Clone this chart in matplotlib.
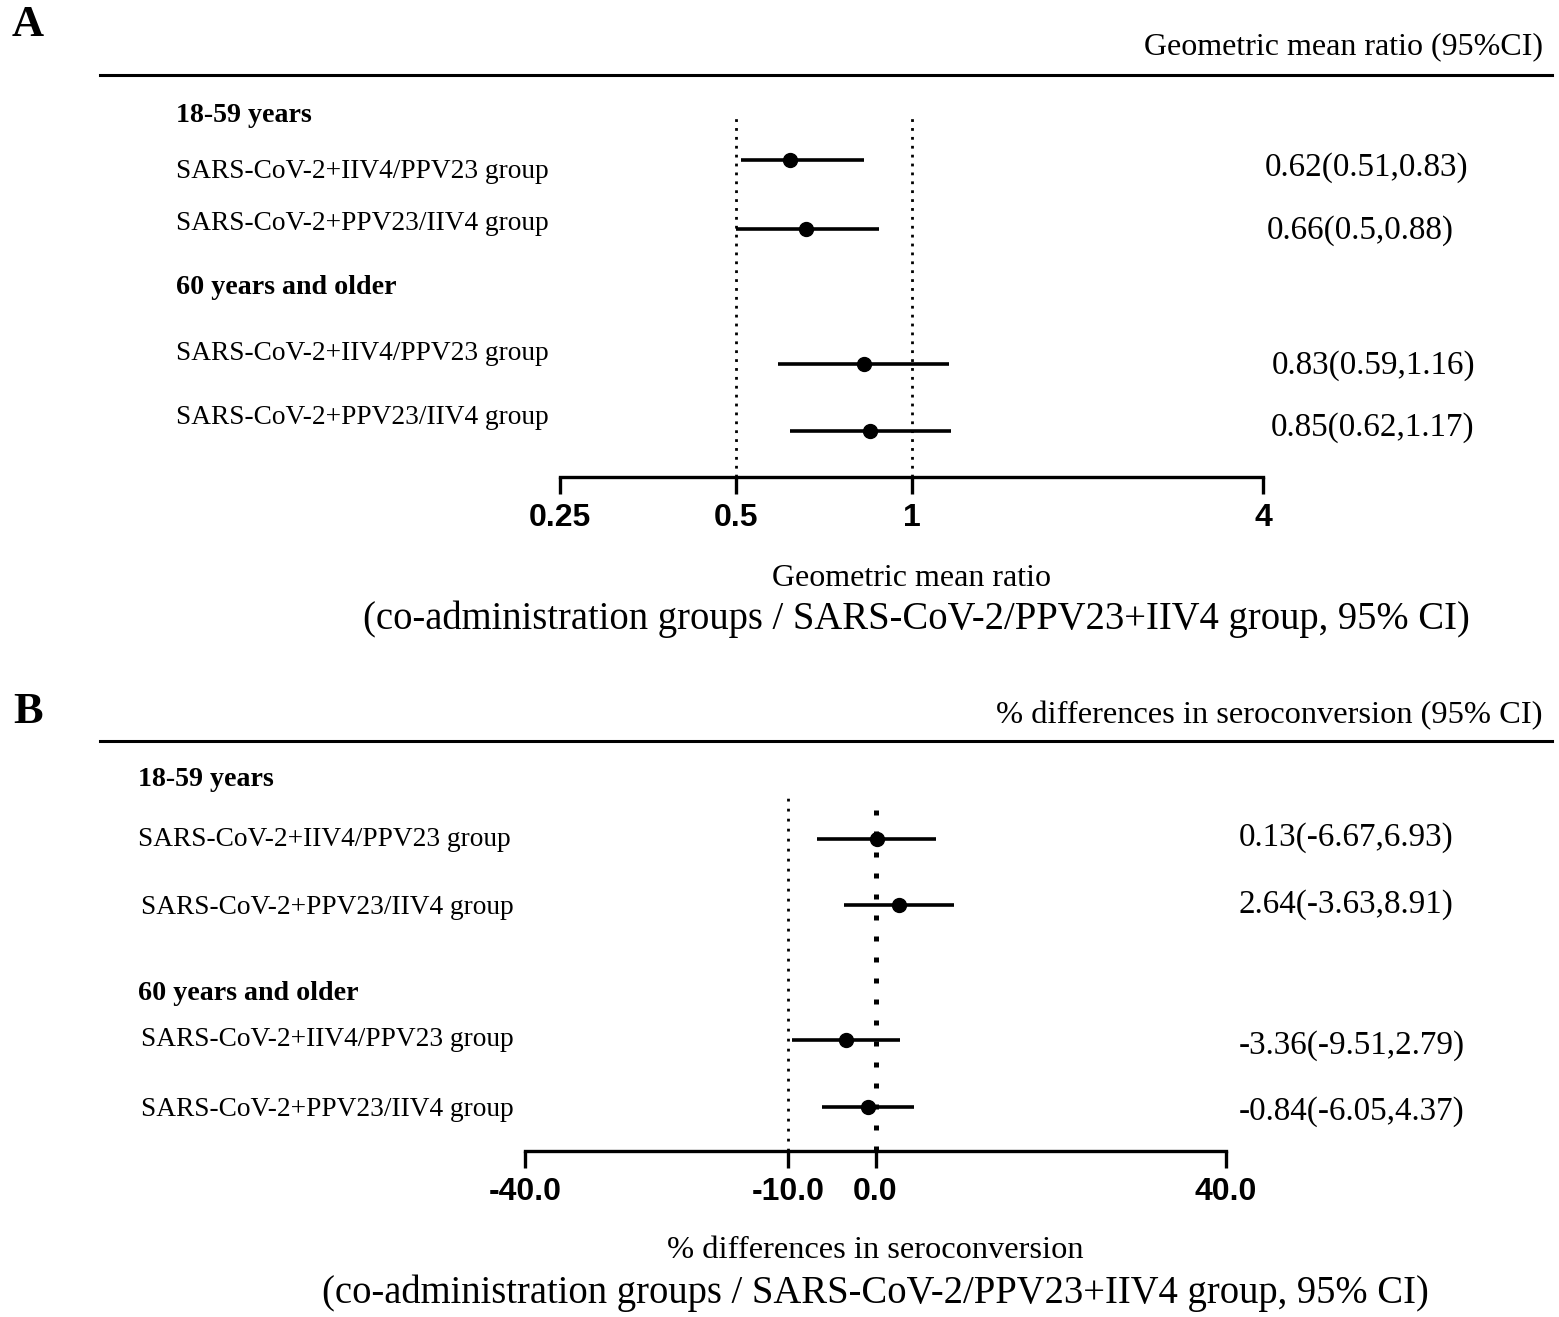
import matplotlib
matplotlib.use("Agg")
import matplotlib.pyplot as plt

# ---------------- data ----------------
group_labels = ["SARS-CoV-2+IIV4/PPV23 group", "SARS-CoV-2+PPV23/IIV4 group",
                "SARS-CoV-2+IIV4/PPV23 group", "SARS-CoV-2+PPV23/IIV4 group"]
age_headers = ["18-59 years", "60 years and older"]

gmr_mean = [0.62, 0.66, 0.83, 0.85]
gmr_low = [0.51, 0.50, 0.59, 0.62]
gmr_high = [0.83, 0.88, 1.16, 1.17]
gmr_ticks = [0.25, 0.5, 1, 4]
gmr_ticklabels = ["0.25", "0.5", "1", "4"]
gmr_refs = [0.5, 1]

sc_mean = [0.13, 2.64, -3.36, -0.84]
sc_low = [-6.67, -3.63, -9.51, -6.05]
sc_high = [6.93, 8.91, 2.79, 4.37]
sc_ticks = [-40, -10, 0, 40]
sc_ticklabels = ["-40.0", "-10.0", "0.0", "40.0"]
sc_refs = [-10, 0]

W, H = 1559, 1317
fig = plt.figure(figsize=(W / 100, H / 100), dpi=100)
SERIF = "Liberation Serif"
SANS = "Liberation Sans"


def fx(x):
    return x / W


def fy(y):
    return 1 - y / H


def ftext(x, y, s, **kw):
    fig.text(fx(x), fy(y + 3), s, family=SERIF, **kw)


def make_axes(x0, x1, ytop, ybot):
    ax = fig.add_axes([fx(x0), fy(ybot), fx(x1 - x0), (ybot - ytop) / H])
    ax.set_ylim(ybot, ytop)
    for s in ["top", "right", "left"]:
        ax.spines[s].set_visible(False)
    ax.spines["bottom"].set_linewidth(2.4)
    ax.set_yticks([])
    ax.tick_params(axis="x", direction="out", length=12, width=2.4, pad=7,
                   labelsize=23)
    ax.patch.set_alpha(0)
    return ax


# ---------------- Panel A ----------------
ftext(28, 22, "A", fontsize=32, fontweight="bold", va="center", ha="center")
fig.add_artist(plt.Line2D([fx(100), fx(1552)], [fy(75), fy(75)], color="black", lw=2.2))
ftext(1543, 44, "Geometric mean ratio (95%CI)", fontsize=23, ha="right", va="center")

axA = make_axes(560, 1263, 95, 477)
axA.set_xscale("log", base=2)
axA.set_xlim(0.25, 4)
axA.set_xticks(gmr_ticks)
axA.set_xticklabels(gmr_ticklabels)
axA.minorticks_off()
for lab in axA.get_xticklabels():
    lab.set_fontfamily(SANS)
    lab.set_fontweight("bold")

rowsA = [160, 229, 364, 431]
labelsA_y = [168, 220, 351, 414]
valsA_y = [165, 228, 363, 425]
valsA_x = [1367, 1360, 1374, 1373]
headA_y = [113, 285]

for r in gmr_refs:
    axA.plot([r, r], [477, 117], ls=(0, (1, 2.2)), color="black", lw=2.0)

for i in range(4):
    axA.errorbar(gmr_mean[i], rowsA[i],
                 xerr=[[gmr_mean[i] - gmr_low[i]], [gmr_high[i] - gmr_mean[i]]],
                 fmt="o", color="black", ms=10, elinewidth=2.6, capsize=0,
                 clip_on=False)
    ftext(176, labelsA_y[i], group_labels[i], fontsize=19.7, va="center")
    ftext(valsA_x[i], valsA_y[i],
          f"{gmr_mean[i]:g}({gmr_low[i]:g},{gmr_high[i]:g})",
          fontsize=23.9, va="center", ha="center")
for h, y in zip(age_headers, headA_y):
    ftext(176, y, h, fontsize=20.2, fontweight="bold", va="center")

ftext(911, 576, "Geometric mean ratio", fontsize=23, ha="center", va="center")
ftext(916, 616, "(co-administration groups / SARS-CoV-2/PPV23+IIV4 group, 95% CI)",
      fontsize=27.8, ha="center", va="center")

# ---------------- Panel B ----------------
ftext(28, 709, "B", fontsize=32, fontweight="bold", va="center", ha="center")
fig.add_artist(plt.Line2D([fx(100), fx(1552)], [fy(741), fy(741)], color="black", lw=2.2))
ftext(1543, 713, "% differences in seroconversion (95% CI)", fontsize=23.4,
      ha="right", va="center")

axB = make_axes(525, 1226, 760, 1151)
axB.set_xlim(-40, 40)
axB.set_xticks(sc_ticks)
axB.set_xticklabels(sc_ticklabels)
for lab in axB.get_xticklabels():
    lab.set_fontfamily(SANS)
    lab.set_fontweight("bold")

rowsB = [839, 905, 1040, 1107]
labelsB_y = [836, 905, 1036, 1106]
labelsB_x = [138, 141, 141, 141]
valsB_y = [835, 902, 1043, 1109]
headB_y = [777, 990]

axB.plot([sc_refs[0]] * 2, [1151, 795], ls=(0, (1, 2.6)), color="black", lw=2.0)
axB.plot([sc_refs[1]] * 2, [1151, 795], ls=(0, (1, 3.2)), color="black", lw=3.6)

for i in range(4):
    axB.errorbar(sc_mean[i], rowsB[i],
                 xerr=[[sc_mean[i] - sc_low[i]], [sc_high[i] - sc_mean[i]]],
                 fmt="o", color="black", ms=10, elinewidth=2.6, capsize=0,
                 clip_on=False)
    ftext(labelsB_x[i], labelsB_y[i], group_labels[i], fontsize=19.7, va="center")
    ftext(1239, valsB_y[i], f"{sc_mean[i]:.2f}({sc_low[i]:.2f},{sc_high[i]:.2f})",
          fontsize=23.9, va="center", ha="left")
for h, y in zip(age_headers, headB_y):
    ftext(138, y, h, fontsize=20.2, fontweight="bold", va="center")

ftext(875, 1247, "% differences in seroconversion", fontsize=23.4, ha="center", va="center")
ftext(875, 1290, "(co-administration groups / SARS-CoV-2/PPV23+IIV4 group, 95% CI)",
      fontsize=27.8, ha="center", va="center")

fig.savefig("out.png", dpi=100)
